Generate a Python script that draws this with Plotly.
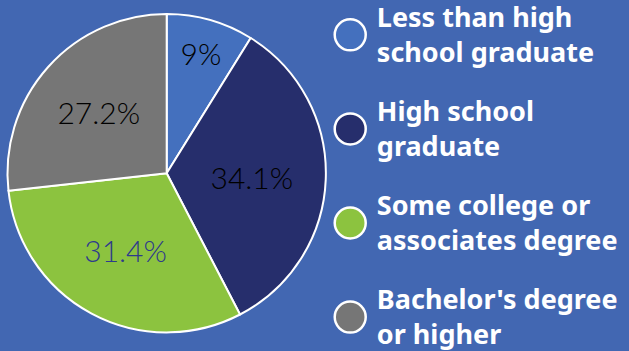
import plotly.graph_objects as go

categories = ["Less than high<br>school graduate", "High school<br>graduate",
              "Some college or<br>associates degree", "Bachelor's degree<br>or higher"]
values = [9, 34.1, 31.4, 27.2]
slice_colors = ["#4470BE", "#262E6C", "#8CC33F", "#767676"]
label_colors = ["#000000", "#000000", "#2E3A8C", "#000000"]
BG = "#4267B2"

fig = go.Figure()
fig.add_trace(go.Pie(
    labels=categories, values=values, sort=False, direction="clockwise", rotation=0,
    marker=dict(colors=slice_colors, line=dict(color="white", width=2)),
    texttemplate="%{value}%", textposition="inside", insidetextorientation="horizontal",
    textfont=dict(family="Lato", size=30, color=label_colors, weight=300),
    showlegend=False, hoverinfo="skip",
    domain=dict(x=[0.0, 0.53], y=[0.053, 0.96]),
))
ypos = list(range(len(categories)))
fig.add_trace(go.Scatter(
    x=[0] * len(categories), y=ypos, mode="markers",
    marker=dict(size=31, color=slice_colors, line=dict(color="white", width=2.5)),
    showlegend=False, hoverinfo="skip", cliponaxis=False,
))
fig.add_trace(go.Scatter(
    x=[0.09] * len(categories), y=ypos, mode="text",
    text=categories, textposition="middle right",
    textfont=dict(family="Noto Sans", size=27, color="white", weight=700),
    showlegend=False, hoverinfo="skip", cliponaxis=False, yaxis="y2",
))
fig.update_layout(
    width=629, height=351, margin=dict(l=0, r=0, t=0, b=0),
    paper_bgcolor=BG, plot_bgcolor=BG,
    xaxis=dict(domain=[0.53, 1], range=[-0.057, 0.943], visible=False, fixedrange=True),
    yaxis=dict(domain=[0, 1], range=[3.36, -0.37], visible=False, fixedrange=True),
    yaxis2=dict(domain=[0, 1], range=[3.33, -0.40], visible=False, fixedrange=True,
                overlaying="y"),
)
fig.write_html("out.html")
